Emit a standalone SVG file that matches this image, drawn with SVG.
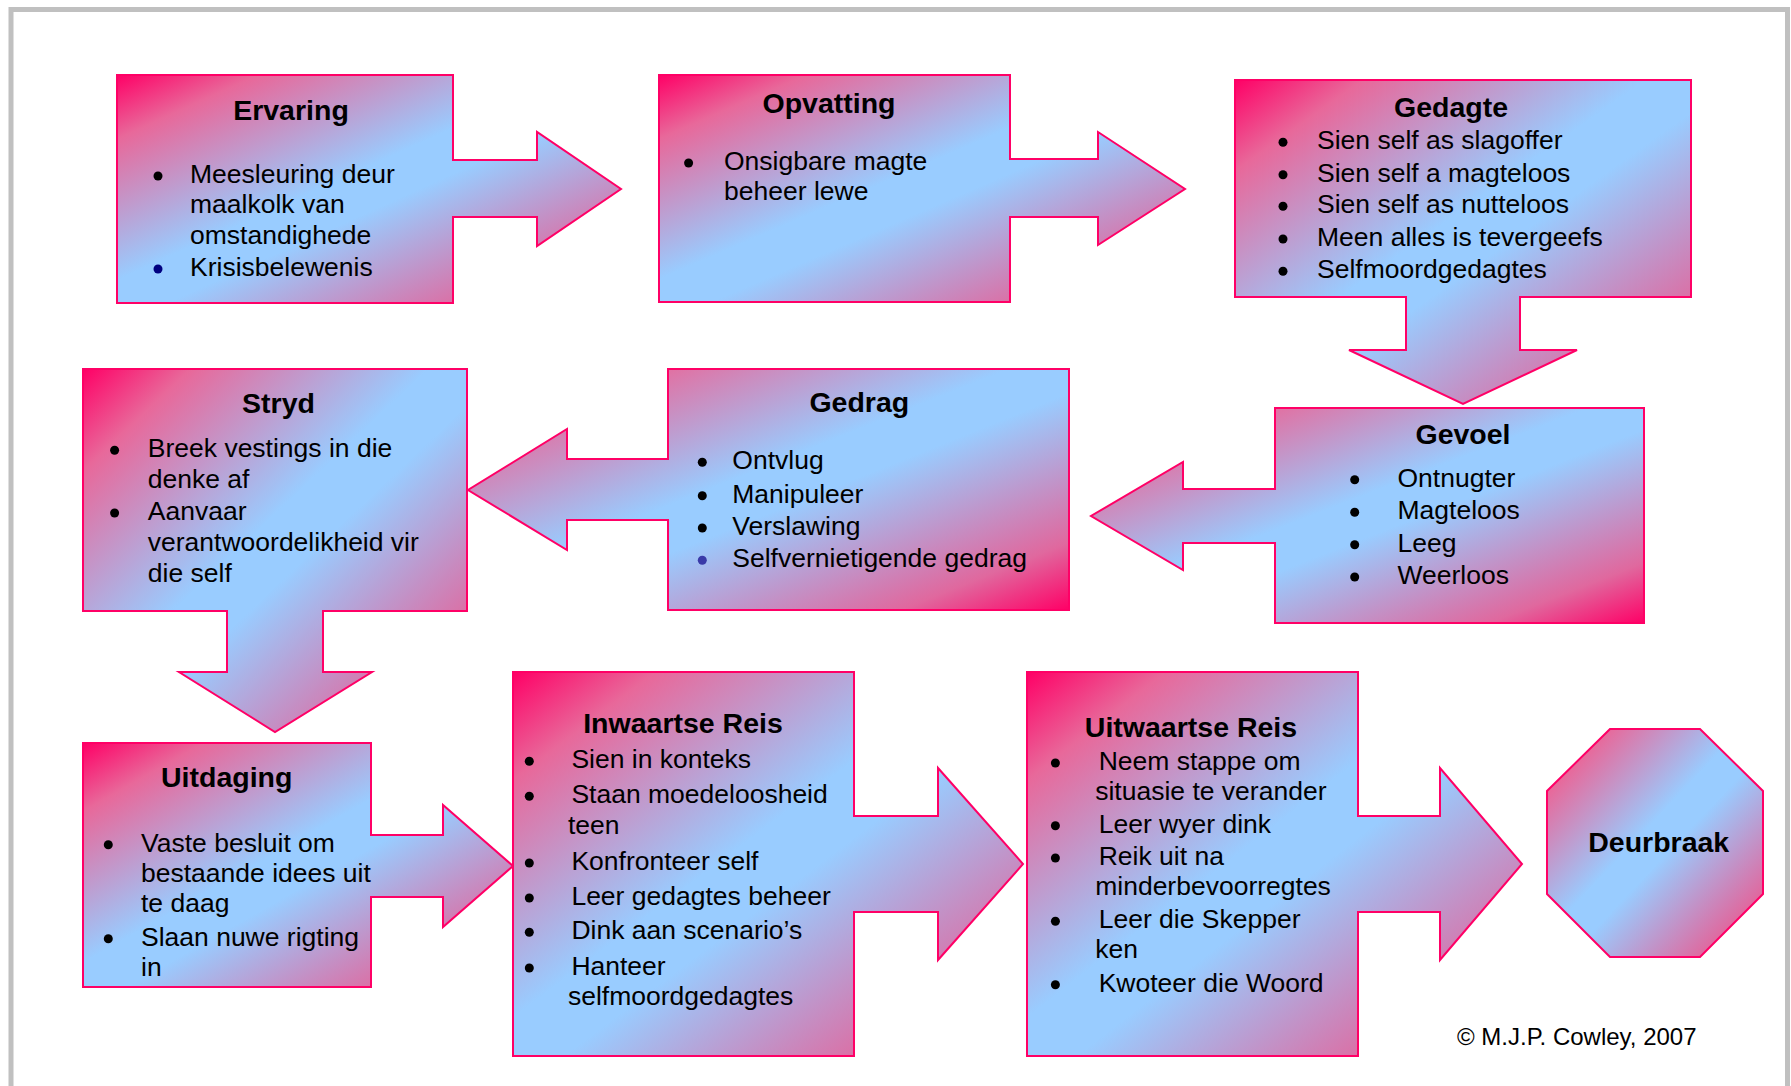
<svg xmlns="http://www.w3.org/2000/svg" width="1791" height="1086" viewBox="0 0 1791 1086">
  <defs>
    <!-- pink / light-blue / pink diagonal fill shared by every shape -->
    <linearGradient id="fill" x1="0" y1="0" x2="1" y2="1">
      <stop offset="0" stop-color="#ff0066"/>
      <stop offset="0.14" stop-color="#e8689a"/>
      <stop offset="0.45" stop-color="#99ccff"/>
      <stop offset="0.55" stop-color="#99ccff"/>
      <stop offset="0.86" stop-color="#e0689e"/>
      <stop offset="1" stop-color="#ff0066"/>
    </linearGradient>
  </defs>
  <style>
    .shape { fill: url(#fill); stroke: #ff0066; stroke-width: 2; stroke-linejoin: miter; }
    .title { font-family: "Liberation Sans", Arial, sans-serif; font-weight: bold; font-size: 28.5px; fill: #000; text-anchor: middle; }
    .body { font-family: "Liberation Sans", Arial, sans-serif; font-size: 26.5px; fill: #000; }
    .dot { fill: #000; }
    .navy { fill: #000080; }
    .slate { fill: #3a3aa8; }
    .note { font-family: "Liberation Sans", Arial, sans-serif; font-size: 24px; fill: #000; }
  </style>

  <rect width="1791" height="1086" fill="#ffffff"/>
  <!-- page frame -->
  <rect x="11" y="9.5" width="1776.5" height="1110" fill="none" stroke="#c0c0c0" stroke-width="5"/>

  <!-- block arrows joining each step to the next -->
  <g id="connectors">
    <path class="shape" d="M117,75 H453 V160 H537 V132 L621,189 L537,246 V217 H453 V303 H117 Z"/>
    <path class="shape" d="M659,75 H1010 V159 H1098 V132 L1185,189 L1098,245 V217 H1010 V302 H659 Z"/>
    <path class="shape" d="M1235,80 H1691 V297 H1520 V350 H1577 L1463,404 L1349,350 H1406 V297 H1235 Z"/>
    <path class="shape" d="M1275,408 H1644 V623 H1275 V543 H1183 V570 L1091,516 L1183,462 V489 H1275 Z"/>
    <path class="shape" d="M668,369 H1069 V610 H668 V520 H567 V550 L468,490 L567,429 V459 H668 Z"/>
    <path class="shape" d="M83,369 H467 V611 H323 V672 H372 L275,732 L179,672 H227 V611 H83 Z"/>
    <path class="shape" d="M83,743 H371 V835 H443 V805 L513,866 L443,927 V897 H371 V987 H83 Z"/>
    <path class="shape" d="M513,672 H854 V816 H938 V768 L1023,864 L938,960 V912 H854 V1056 H513 Z"/>
    <path class="shape" d="M1027,672 H1358 V816 H1440 V768 L1522,864 L1440,960 V912 H1358 V1056 H1027 Z"/>
  </g>

  <g id="ervaring">
    <text class="title" x="291" y="120">Ervaring</text>
    <circle class="dot" cx="158" cy="176" r="4.5"/>
    <text class="body" x="190" y="183">Meesleuring deur</text>
    <text class="body" x="190" y="213.3">maalkolk van</text>
    <text class="body" x="190" y="244.3">omstandighede</text>
    <circle class="navy" cx="158" cy="269" r="4.5"/>
    <text class="body" x="190" y="276">Krisisbelewenis</text>
  </g>

  <g id="opvatting">
    <text class="title" x="829" y="112.7">Opvatting</text>
    <circle class="dot" cx="688.6" cy="163" r="4.5"/>
    <text class="body" x="724" y="170">Onsigbare magte</text>
    <text class="body" x="724" y="200">beheer lewe</text>
  </g>

  <g id="gedagte">
    <text class="title" x="1451" y="117.3">Gedagte</text>
    <circle class="dot" cx="1283" cy="142.3" r="4.5"/>
    <text class="body" x="1317" y="149.3">Sien self as slagoffer</text>
    <circle class="dot" cx="1283" cy="174.7" r="4.5"/>
    <text class="body" x="1317" y="181.7">Sien self a magteloos</text>
    <circle class="dot" cx="1283" cy="206.3" r="4.5"/>
    <text class="body" x="1317" y="213.3">Sien self as nutteloos</text>
    <circle class="dot" cx="1283" cy="239" r="4.5"/>
    <text class="body" x="1317" y="246">Meen alles is tevergeefs</text>
    <circle class="dot" cx="1283" cy="271.3" r="4.5"/>
    <text class="body" x="1317" y="278.3">Selfmoordgedagtes</text>
  </g>

  <g id="gevoel">
    <text class="title" x="1463" y="444">Gevoel</text>
    <circle class="dot" cx="1354.7" cy="479.7" r="4.5"/>
    <text class="body" x="1397.5" y="486.7">Ontnugter</text>
    <circle class="dot" cx="1354.7" cy="512.3" r="4.5"/>
    <text class="body" x="1397.5" y="519.3">Magteloos</text>
    <circle class="dot" cx="1354.7" cy="544.7" r="4.5"/>
    <text class="body" x="1397.5" y="551.7">Leeg</text>
    <circle class="dot" cx="1354.7" cy="577" r="4.5"/>
    <text class="body" x="1397.5" y="584">Weerloos</text>
  </g>

  <g id="gedrag">
    <text class="title" x="859.3" y="411.7">Gedrag</text>
    <circle class="dot" cx="702.3" cy="462.3" r="4.5"/>
    <text class="body" x="732.3" y="469.3">Ontvlug</text>
    <circle class="dot" cx="702.3" cy="495.7" r="4.5"/>
    <text class="body" x="732.3" y="502.7">Manipuleer</text>
    <circle class="dot" cx="702.3" cy="528" r="4.5"/>
    <text class="body" x="732.3" y="535">Verslawing</text>
    <circle class="slate" cx="702.3" cy="560.3" r="4.5"/>
    <text class="body" x="732.3" y="567.3">Selfvernietigende gedrag</text>
  </g>

  <g id="stryd">
    <text class="title" x="278.5" y="413.3">Stryd</text>
    <circle class="dot" cx="114.6" cy="450.3" r="4.5"/>
    <text class="body" x="147.8" y="457.3">Breek vestings in die</text>
    <text class="body" x="147.8" y="488.3">denke af</text>
    <circle class="dot" cx="114.6" cy="513" r="4.5"/>
    <text class="body" x="147.8" y="520">Aanvaar</text>
    <text class="body" x="147.8" y="551">verantwoordelikheid vir</text>
    <text class="body" x="147.8" y="581.7">die self</text>
  </g>

  <g id="uitdaging">
    <text class="title" x="226.7" y="786.7">Uitdaging</text>
    <circle class="dot" cx="108.3" cy="844.7" r="4.5"/>
    <text class="body" x="141" y="851.7">Vaste besluit om</text>
    <text class="body" x="141" y="881.7">bestaande idees uit</text>
    <text class="body" x="141" y="911.7">te daag</text>
    <circle class="dot" cx="108.3" cy="938.7" r="4.5"/>
    <text class="body" x="141" y="945.7">Slaan nuwe rigting</text>
    <text class="body" x="141" y="976">in</text>
  </g>

  <g id="inwaartse-reis">
    <text class="title" x="683" y="733.3">Inwaartse Reis</text>
    <circle class="dot" cx="529.3" cy="761.3" r="4.5"/>
    <text class="body" x="571.4" y="768.3">Sien in konteks</text>
    <circle class="dot" cx="529.3" cy="796.3" r="4.5"/>
    <text class="body" x="571.4" y="803.3">Staan moedeloosheid</text>
    <text class="body" x="567.9" y="834">teen</text>
    <circle class="dot" cx="529.3" cy="863" r="4.5"/>
    <text class="body" x="571.4" y="870">Konfronteer self</text>
    <circle class="dot" cx="529.3" cy="898" r="4.5"/>
    <text class="body" x="571.4" y="905">Leer gedagtes beheer</text>
    <circle class="dot" cx="529.3" cy="932.3" r="4.5"/>
    <text class="body" x="571.4" y="939.3">Dink aan scenario’s</text>
    <circle class="dot" cx="529.3" cy="968" r="4.5"/>
    <text class="body" x="571.4" y="975">Hanteer</text>
    <text class="body" x="567.9" y="1005">selfmoordgedagtes</text>
  </g>

  <g id="uitwaartse-reis">
    <text class="title" x="1191" y="736.7">Uitwaartse Reis</text>
    <circle class="dot" cx="1055.4" cy="763" r="4.5"/>
    <text class="body" x="1098.7" y="770">Neem stappe om</text>
    <text class="body" x="1095.2" y="800">situasie te verander</text>
    <circle class="dot" cx="1055.4" cy="825.7" r="4.5"/>
    <text class="body" x="1098.7" y="832.7">Leer wyer dink</text>
    <circle class="dot" cx="1055.4" cy="858" r="4.5"/>
    <text class="body" x="1098.7" y="865">Reik uit na</text>
    <text class="body" x="1095.2" y="895">minderbevoorregtes</text>
    <circle class="dot" cx="1055.4" cy="921.3" r="4.5"/>
    <text class="body" x="1098.7" y="928.3">Leer die Skepper</text>
    <text class="body" x="1095.2" y="958.3">ken</text>
    <circle class="dot" cx="1055.4" cy="984.7" r="4.5"/>
    <text class="body" x="1098.7" y="991.7">Kwoteer die Woord</text>
  </g>

  <g id="deurbraak">
    <polygon class="shape" points="1610,729 1700,729 1763,791 1763,894 1700,957 1610,957 1547,894 1547,791"/>
    <text class="title" x="1658.7" y="851.7">Deurbraak</text>
  </g>

  <text class="note" x="1457" y="1045">© M.J.P. Cowley, 2007</text>
</svg>
